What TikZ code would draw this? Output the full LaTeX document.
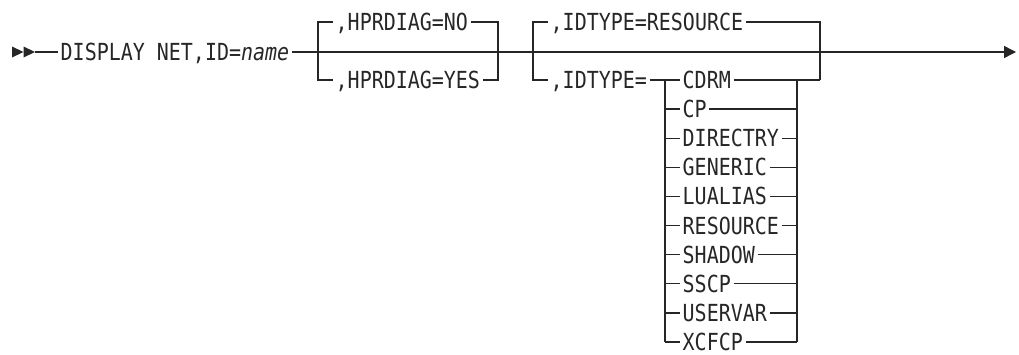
\documentclass[tikz,border=0pt]{standalone}
\usepackage{fontspec}
\setmonofont[FakeStretch=0.85]{DejaVu Sans Mono}
\usetikzlibrary{arrows.meta}
\begin{document}
\begin{tikzpicture}[x=1pt,y=-1pt,
  line width=1.4pt, color=black!85,
  lbl/.style={inner xsep=2pt, inner ysep=0pt, anchor=base west,
    font=\fontsize{23.5}{26}\selectfont\ttfamily}]
\useasboundingbox (0,0) rectangle (1019,354);

% start marker and main text
\fill (12,46.5) -- (23.5,52) -- (12,57.5) -- cycle;
\fill (23.5,46.5) -- (35,52) -- (23.5,57.5) -- cycle;
\coordinate (start) at (35,52);
\coordinate (end) at (1016,52);
\node[lbl] (disp) at (58,60.5) {DISPLAY NET,ID=\textit{name}};
\draw (start) -- (start -| disp.west);
\draw[-{Triangle[length=12pt,width=12pt]}] (disp.east |- start) -- (end);

% HPRDIAG group
\coordinate (h1t) at (318,22);
\coordinate (h1b) at (318,80);
\coordinate (h2t) at (498,22);
\coordinate (h2b) at (498,80);
\node[lbl] (hno) at (333,30.5) {,HPRDIAG=NO};
\node[lbl] (hyes) at (333,88.5) {,HPRDIAG=YES};
\draw (h1t -| hno.west) -- (h1t) -- (h1b) -- (h1b -| hyes.west);
\draw (hno.east |- h2t) -- (h2t) -- (h2b) -- (hyes.east |- h2b);

% IDTYPE group
\coordinate (i1t) at (533,22);
\coordinate (i1b) at (533,80);
\coordinate (i2t) at (820,22);
\coordinate (i2b) at (820,80);
\node[lbl] (ires) at (548,30.5) {,IDTYPE=RESOURCE};
\node[lbl] (ieq) at (548,88.5) {,IDTYPE=};
\draw (i1t -| ires.west) -- (i1t) -- (i1b) -- (i1b -| ieq.west);
\draw (ires.east |- i2t) -- (i2t) -- (i2b);

% IDTYPE values
\foreach \t [count=\k from 0] in {CDRM,CP,DIRECTRY,GENERIC,LUALIAS,RESOURCE,SHADOW,SSCP,USERVAR,XCFCP} {
  \pgfmathsetmacro\ry{80+29.1*\k}
  \coordinate (l\k) at (665,\ry);
  \coordinate (r\k) at (797,\ry);
  \node[lbl] (it\k) at (680,\ry+8.5) {\t};
}
\draw (ieq.east |- l0) -- (l0 -| it0.west);
\draw (it0.east |- r0) -- (i2b);
\foreach \k in {1,...,9} {
  \draw (l\k) -- (l\k -| it\k.west);
  \draw (it\k.east |- r\k) -- (r\k);
}
\draw (l0) -- (l9);
\draw (r0) -- (r9);
\end{tikzpicture}
\end{document}
